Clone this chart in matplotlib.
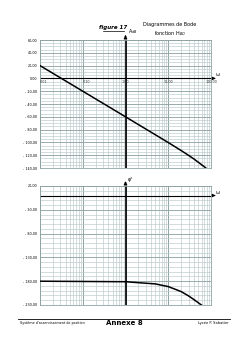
import numpy as np
import matplotlib
matplotlib.use("Agg")
from matplotlib import pyplot as plt
from matplotlib.ticker import FixedLocator, NullFormatter

# ---------------- données ----------------
w_gain = [0.01, 0.1, 1, 10, 20, 30, 40, 50, 60, 70, 80]
gain_db = [20, -20, -60, -100.2, -112.7, -120.3, -126.0, -130.8, -134.8, -138.2, -141.3]

w_phase = [0.01, 1, 5, 10, 20, 30, 40, 50, 60, 70, 80]
phase_deg = [-180, -181.1, -185.7, -191.3, -201.8, -211.0, -218.7, -225.0, -230.2, -234.5, -238.0]

x_ticks = [0.01, 0.1, 1, 10, 100]
x_labels = ["0,01", "0,10", "1,00", "10,00", "100,00"]
gain_ticks = [60, 40, 20, 0, -20, -40, -60, -80, -100, -120, -140]
phase_ticks = [20, -30, -80, -130, -180, -230]

def fr(v):
    return ("%.2f" % v).replace(".", ",").replace("-", "- ")

minor_col = "#b9c9c9"
major_col = "#8fa3a3"

fig = plt.figure(figsize=(2.48, 3.51), dpi=100)
ax1 = fig.add_axes([40/248, 1-168/351, 171/248, 128/351])
ax2 = fig.add_axes([40/248, 1-305/351, 171/248, 119/351])

def paper(ax, ylim, yticks, ystep):
    ax.set_xscale("log")
    ax.set_xlim(0.01, 100)
    ax.set_ylim(*ylim)
    minors = [m * 10.0**d for d in range(-2, 2) for m in range(2, 10)]
    for xv in minors:
        ax.axvline(xv, color=minor_col, lw=0.45, zorder=0)
    for xv in x_ticks:
        ax.axvline(xv, color=major_col, lw=0.7, zorder=0)
    for yv in np.arange(ylim[0], ylim[1] + 0.1, ystep):
        ax.axhline(yv, color=minor_col, lw=0.45, zorder=0)
    for yv in yticks:
        ax.axhline(yv, color=major_col, lw=0.6, zorder=0)
    ax.yaxis.set_major_locator(FixedLocator(yticks))
    ax.set_yticklabels([fr(v) for v in yticks], fontsize=2.4)
    ax.xaxis.set_major_locator(FixedLocator(x_ticks))
    ax.xaxis.set_minor_formatter(NullFormatter())
    ax.set_xticklabels([])
    ax.tick_params(length=0, pad=2, which="both")
    for s in ax.spines.values():
        s.set_color(major_col)
        s.set_linewidth(0.6)

paper(ax1, (-140, 60), gain_ticks, 5)
paper(ax2, (-230, 20), phase_ticks, 10)

# axes noirs (0 dB / 0° et w = 1)
for ax, top in ((ax1, 60), (ax2, 20)):
    ax.axhline(0, color="black", lw=0.8, zorder=2)
    ax.axvline(1, color="black", lw=1.2, zorder=2)
    ax.annotate("", xy=(1, top + (12 if ax is ax1 else 16)), xytext=(1, top),
                arrowprops=dict(arrowstyle="-|>", lw=1.0, color="black",
                                mutation_scale=4), annotation_clip=False)
    ax.annotate("", xy=(150, 0), xytext=(100, 0),
                arrowprops=dict(arrowstyle="-|>", lw=0.8, color="black",
                                mutation_scale=4), annotation_clip=False)
    ax.text(140, 2, "ω", fontsize=3.5, ha="center", va="bottom", clip_on=False)

ax1.text(1.12, 66, "A$_{dB}$", fontsize=3.5, va="bottom", clip_on=False)
ax2.text(1.12, 28, "φ°", fontsize=3.5, va="bottom", clip_on=False)

for xv, lab in zip(x_ticks, x_labels):
    ax1.text(xv, -2, lab, fontsize=2.4, ha="left" if xv < 1 else "center",
             va="top", color="#333333", clip_on=False)

ax1.plot(w_gain, gain_db, color="black", lw=1.1, zorder=3)
ax2.plot(w_phase, phase_deg, color="black", lw=1.1, zorder=3)

fig.text(113/248, 1-28/351, "figure 17", fontsize=4, fontweight="bold",
         style="italic", ha="center", va="center")
fig.add_artist(plt.Line2D([103/248, 124/248], [1-31/351, 1-31/351],
                          color="black", lw=0.5))
fig.text(170/248, 1-30/351, "Diagrammes de Bode\nfonction H$_{BO}$", fontsize=3.5,
         ha="center", va="center", linespacing=1.2)

# pied de page
fig.add_artist(plt.Line2D([18/248, 230/248], [1-319/351, 1-319/351],
                          color="black", lw=0.6))
fig.text(20/248, 1-323/351, "Système d'asservissement de position", fontsize=2.4,
         ha="left", va="center")
fig.text(124/248, 1-323/351, "Annexe 8", fontsize=5, fontweight="bold",
         ha="center", va="center")
fig.text(229/248, 1-323/351, "Lycée P. Sabatier", fontsize=2.6,
         ha="right", va="center")

fig.savefig("out.png", dpi=100)
